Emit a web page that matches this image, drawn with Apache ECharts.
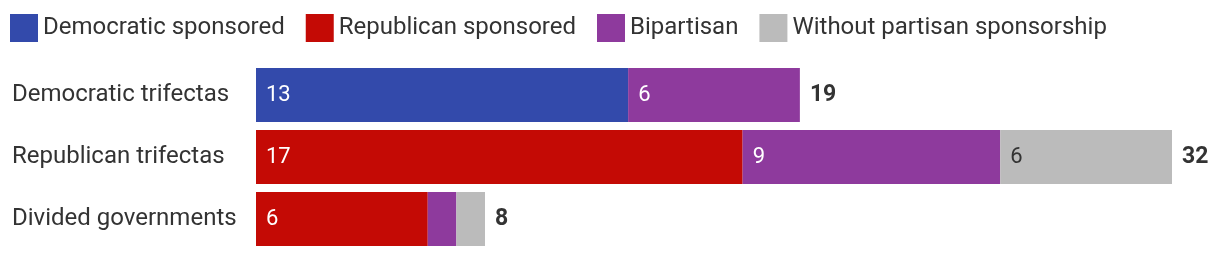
<!DOCTYPE html>
<html><head><meta charset="utf-8">
<script src="https://cdn.jsdelivr.net/npm/echarts@6/dist/echarts.min.js"></script>
<style>html,body{margin:0;padding:0;background:#fff}#c{width:1220px;height:258px}</style>
</head><body><div id="c"></div>
<script>
const categories = ['Democratic trifectas', 'Republican trifectas', 'Divided governments'];
const seriesNames = ['Democratic sponsored', 'Republican sponsored', 'Bipartisan', 'Without partisan sponsorship'];
const democratic = [13, 0, 0];
const republican = [0, 17, 6];
const bipartisan = [6, 9, 1];
const nonpartisan = [0, 6, 1];
const totals = [19, 32, 8];
const colors = ['#334aab', '#c40a05', '#8e3a9d', '#bbbbbb'];
const labelColors = ['#ffffff', '#ffffff', '#ffffff', '#333333'];

const FONT = 'Roboto';
const values = [democratic, republican, bipartisan, nonpartisan];
const series = values.map((arr, i) => ({
  name: seriesNames[i], type: 'bar', stack: 'all', barWidth: 54,
  itemStyle: { color: colors[i] },
  label: {
    show: true, position: 'insideLeft', distance: 10,
    color: labelColors[i], fontSize: 22, fontFamily: FONT,
    formatter: p => (p.value >= 2 ? String(p.value) : '')
  },
  data: arr.map(v => (v === 0 ? null : v))
}));
series.push({
  name: 'total', type: 'bar', stack: 'all', barWidth: 54,
  itemStyle: { color: 'transparent' },
  label: {
    show: true, position: 'right', distance: 10,
    color: '#333', fontSize: 23, fontWeight: 'bold', fontFamily: FONT,
    formatter: p => String(totals[p.dataIndex])
  },
  data: totals.map(() => 0)
});

const chart = echarts.init(document.getElementById('c'));
chart.setOption({
  animation: false,
  textStyle: { fontFamily: FONT },
  legend: {
    data: seriesNames, left: 10, top: 14, padding: 0, icon: 'rect',
    itemWidth: 28, itemHeight: 28, itemGap: 21,
    textStyle: { fontSize: 24, color: '#333', fontFamily: FONT }
  },
  grid: { left: 256, right: 48, top: 64, bottom: 8, containLabel: false },
  xAxis: { type: 'value', min: 0, max: 32, show: false },
  yAxis: {
    type: 'category', data: categories, inverse: true,
    axisLine: { show: false }, axisTick: { show: false },
    axisLabel: { align: 'left', margin: 244, fontSize: 24, color: '#333', fontFamily: FONT, padding: [4, 0, 0, 0] }
  },
  series
});
</script></body></html>
